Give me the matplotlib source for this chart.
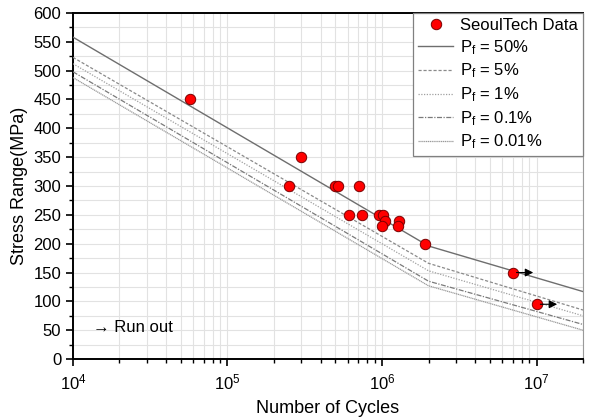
import matplotlib.pyplot as plt
import numpy as np
from matplotlib.ticker import MultipleLocator, LogLocator

plt.rcParams["font.family"] = ["Liberation Sans", "DejaVu Sans"]
plt.rcParams["mathtext.default"] = "regular"

# test data (cycles, stress range in MPa)
cycles = [5.7e4, 2.5e5, 3.0e5, 5.0e5, 5.2e5, 6.1e5, 7.1e5, 7.4e5, 9.5e5,
          1.01e6, 1.05e6, 1.0e6, 1.28e6, 1.26e6, 1.9e6, 7.0e6, 1.0e7]
stress = [450, 300, 350, 300, 300, 250, 300, 250, 250,
          250, 240, 230, 240, 230, 200, 150, 95]
runout_n = [7.0e6, 1.0e7]
runout_s = [150, 95]

# design curves: knots at 1e4, 2e6 (knee), 2e7
curve_n = [1e4, 2e6, 2e7]
curves = {
    "50%": [558, 196, 117],
    "5%": [523, 166, 85],
    "1%": [512, 153, 75],
    "0.1%": [498, 135, 60],
    "0.01%": [488, 127, 50],
}
styles = {
    "50%": dict(color="#6e6e6e", lw=1.0, ls="-"),
    "5%": dict(color="#8a8a8a", lw=0.9, ls=(0, (2.5, 1.5))),
    "1%": dict(color="#a0a0a0", lw=0.9, ls=(0, (1, 1.2))),
    "0.1%": dict(color="#7a7a7a", lw=0.9, ls=(0, (4, 1.2, 1, 1.2))),
    "0.01%": dict(color="#9a9a9a", lw=0.9, ls=(0, (1, 0.5))),
}

fig = plt.figure(figsize=(5.91, 4.18), dpi=100)
ax = fig.add_axes([0.1235, 0.141, 0.863, 0.828])

ax.plot(cycles, stress, "o", ms=7.5, mfc="red", mec="#7a0000", mew=0.7,
        label="SeoulTech Data", zorder=5)
for k, v in curves.items():
    ax.plot(curve_n, v, label=f"P$_f$ = {k}", zorder=3, **styles[k])

for n, s in zip(runout_n, runout_s):
    ax.annotate("", xy=(n * 1.36, s), xytext=(n * 1.06, s),
                arrowprops=dict(arrowstyle="-|>", color="black", lw=0.8,
                                mutation_scale=12, shrinkA=0, shrinkB=0),
                zorder=6)

ax.text(1.35e4, 54, "→ Run out", fontsize=12, va="center", ha="left")

ax.set_xscale("log")
ax.set_xlim(1e4, 2e7)
ax.set_ylim(0, 600)
ax.yaxis.set_major_locator(MultipleLocator(50))
ax.yaxis.set_minor_locator(MultipleLocator(25))
ax.xaxis.set_minor_locator(LogLocator(base=10, subs=np.arange(2, 10), numticks=20))

ax.grid(True, which="both", color="#e2e2e2", lw=0.8, zorder=0)
ax.set_axisbelow(True)

ax.tick_params(which="major", direction="out", length=5, width=1.2, labelsize=12, color="black")
ax.tick_params(which="minor", direction="out", length=3, width=1.0, color="black")
ax.tick_params(axis="x", pad=5)
for side in ("left", "bottom", "top"):
    ax.spines[side].set_linewidth(1.4)
ax.spines["right"].set_color("#9a9a9a")
ax.spines["right"].set_linewidth(0.8)

ax.set_xlabel("Number of Cycles", fontsize=13, labelpad=5)
ax.set_ylabel("Stress Range(MPa)", fontsize=13, labelpad=4)

leg = ax.legend(loc="upper right", fontsize=12, fancybox=False, framealpha=1,
                edgecolor="#808080", borderaxespad=0, handlelength=2.1,
                handletextpad=0.4, labelspacing=0.3, borderpad=0.3)
leg.get_frame().set_linewidth(0.9)

fig.savefig("out.png", dpi=100)
